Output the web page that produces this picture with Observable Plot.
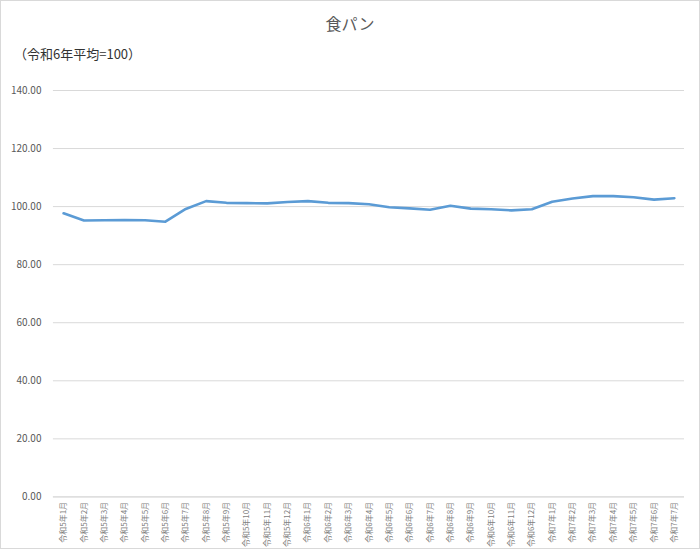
<!DOCTYPE html>
<html><head><meta charset="utf-8">
<script src="https://cdn.jsdelivr.net/npm/d3@7"></script>
<script src="https://cdn.jsdelivr.net/npm/@observablehq/plot@0.6"></script>
<style>
body{margin:0;background:#fff;font-family:"Noto Sans CJK JP","Noto Sans",sans-serif;}
#wrap{position:relative;width:698px;height:547px;border:1px solid #d9d9d9;background:#fff;overflow:hidden;}
#title{position:absolute;left:0;width:698px;top:10px;text-align:center;font-size:16px;color:#595959;}
#sub{position:absolute;left:13px;top:43px;font-size:13px;color:#333;}
#chart{position:absolute;left:-1px;top:79px;}
</style></head>
<body>
<div id="wrap">
<div id="title">食パン</div>
<div id="sub">（令和6年平均=100）</div>
<div id="chart"></div>
</div>
<script>
const months = [
"令和5年1月","令和5年2月","令和5年3月","令和5年4月","令和5年5月","令和5年6月","令和5年7月","令和5年8月","令和5年9月","令和5年10月","令和5年11月","令和5年12月",
"令和6年1月","令和6年2月","令和6年3月","令和6年4月","令和6年5月","令和6年6月","令和6年7月","令和6年8月","令和6年9月","令和6年10月","令和6年11月","令和6年12月",
"令和7年1月","令和7年2月","令和7年3月","令和7年4月","令和7年5月","令和7年6月","令和7年7月"];
const values = [97.7,95.2,95.3,95.4,95.3,94.8,99.2,101.9,101.3,101.2,101.1,101.6,101.9,101.3,101.2,100.8,99.8,99.4,98.9,100.3,99.3,99.1,98.7,99.1,101.7,102.8,103.6,103.6,103.2,102.4,102.9];
const yTicks = [0,20,40,60,80,100,120,140];

const data = months.map((m,i)=>({idx:i, month:m, value:values[i]}));

const chart = Plot.plot({
  width: 700,
  height: 469,
  marginTop: 10,
  marginBottom: 52,
  marginLeft: 53,
  marginRight: 15,
  style: {fontFamily: '"Noto Sans CJK JP","Noto Sans",sans-serif', color: "#595959", background: "transparent"},
  x: {type: "linear", domain: [-0.5, months.length - 0.5], label: null},
  y: {domain: [0,140], label: null},
  marks: [
    Plot.gridY(yTicks, {stroke: "#d9d9d9", strokeOpacity: 1, strokeWidth: 1}),
    Plot.ruleY([0], {stroke: "#d9d9d9", strokeWidth: 1}),
    Plot.axisY(yTicks, {tickFormat: d3.format(".2f"), tickSize: 0, tickPadding: 12, fontSize: 10, label: null, fill: "#595959"}),
    Plot.axisX(d3.range(months.length), {tickFormat: i => months[i], tickRotate: -90, tickSize: 0, tickPadding: 5, fontSize: 8, label: null, fill: "#7f7f7f"}),
    Plot.line(data, {x: "idx", y: "value", stroke: "#5b9bd5", strokeWidth: 2.6, strokeLinejoin: "round", strokeLinecap: "round"})
  ]
});
document.getElementById("chart").appendChild(chart);
</script>
</body></html>
